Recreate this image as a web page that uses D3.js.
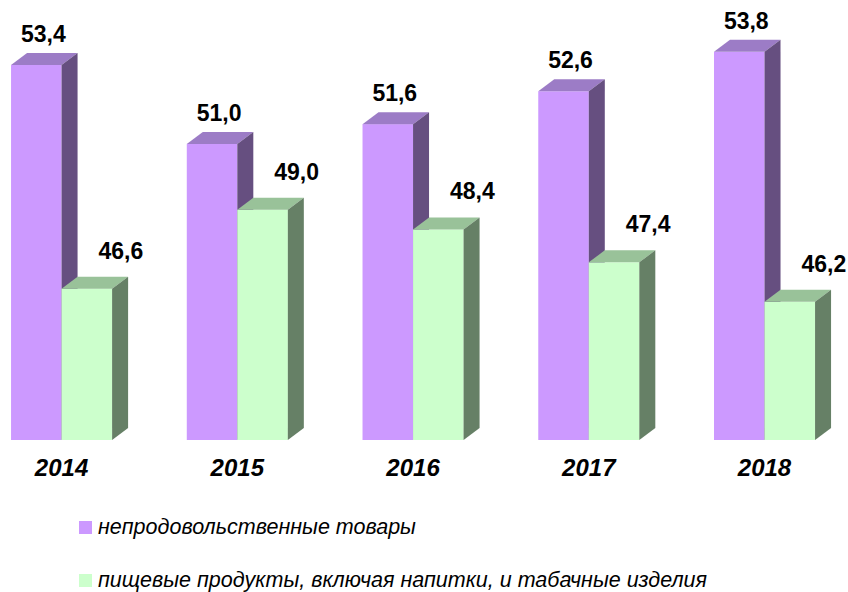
<!DOCTYPE html>
<html>
<head>
<meta charset="utf-8">
<script src="https://cdn.jsdelivr.net/npm/d3@7"></script>
<style>
  html, body { margin: 0; padding: 0; background: #fff; }
</style>
</head>
<body>
<div id="chart"></div>
<script>
var years = ['2014', '2015', '2016', '2017', '2018'];
var nonFood = [53.4, 51.0, 51.6, 52.6, 53.8];
var food = [46.6, 49.0, 48.4, 47.4, 46.2];
var seriesNames = ['непродовольственные товары', 'пищевые продукты, включая напитки, и табачные изделия'];

var fullWidth = 848;
var fullHeight = 592;
var mainFont = 'Arial, "Liberation Sans", sans-serif';

// 3d depth of the bars
var depthX = 16;
var depthY = 12;

var palette = [
    { front: '#cc99ff', top: '#9c7cc6', side: '#664f80' },
    { front: '#ccffcc', top: '#99c299', side: '#668066' }
];

window.onload = function() {
    render();
};

function render() {
    var svg = d3.select('#chart').append('svg')
        .attr('width', fullWidth)
        .attr('height', fullHeight);

    var x = d3.scaleBand()
        .domain(years)
        .range([0.5, 825.6])
        .paddingInner(0.425)
        .paddingOuter(0.06);

    var xs = d3.scaleBand()
        .domain([0, 1])
        .range([0, x.bandwidth()]);

    var y = d3.scaleLinear()
        .domain([42, 54])
        .range([440, 45.2]);

    var series = [nonFood, food];

    years.forEach(function(yr, i) {
        series.forEach(function(vals, s) {
            var x0 = x(yr) + xs(s);
            var x1 = x0 + xs.bandwidth();
            var yt = y(vals[i]);
            var yb = y(42);
            var c = palette[s];

            // front face
            svg.append('rect')
                .attr('x', x0)
                .attr('y', yt)
                .attr('width', x1 - x0)
                .attr('height', yb - yt)
                .style('fill', c.front);

            // top face
            svg.append('path')
                .attr('d', d3.line()([
                    [x0, yt], [x0 + depthX, yt - depthY],
                    [x1 + depthX, yt - depthY], [x1, yt]
                ]) + 'Z')
                .style('fill', c.top);

            // side face
            svg.append('path')
                .attr('d', d3.line()([
                    [x1, yt], [x1 + depthX, yt - depthY],
                    [x1 + depthX, yb - depthY], [x1, yb]
                ]) + 'Z')
                .style('fill', c.side);
        });
    });

    // value labels, drawn after the bars
    years.forEach(function(yr, i) {
        series.forEach(function(vals, s) {
            var cx = x(yr) + xs(s) + xs.bandwidth() / 2;
            var dx = s === 0 ? 7 : 34;
            var dy = s === 0 ? -23 : -30;
            svg.append('text')
                .attr('x', cx + dx)
                .attr('y', y(vals[i]) + dy)
                .style('text-anchor', 'middle')
                .style('font-family', mainFont)
                .style('font-weight', 'bold')
                .style('font-size', '23px')
                .style('fill', '#000')
                .text(d3.format('.1f')(vals[i]).replace('.', ','));
        });
    });

    // year labels
    years.forEach(function(yr) {
        svg.append('text')
            .attr('x', x(yr) + x.bandwidth() / 2)
            .attr('y', 476)
            .style('text-anchor', 'middle')
            .style('font-family', mainFont)
            .style('font-weight', 'bold')
            .style('font-style', 'italic')
            .style('font-size', '24px')
            .style('fill', '#000')
            .text(yr);
    });

    // legend
    var legendY = [521, 574];
    seriesNames.forEach(function(name, s) {
        svg.append('rect')
            .attr('x', 79)
            .attr('y', legendY[s])
            .attr('width', 13)
            .attr('height', 13)
            .style('fill', palette[s].front);
        svg.append('text')
            .attr('x', 98)
            .attr('y', legendY[s] + 13)
            .style('font-family', mainFont)
            .style('font-style', 'italic')
            .style('font-size', '21.5px')
            .style('fill', '#000')
            .text(name);
    });
}
</script>
</body>
</html>
